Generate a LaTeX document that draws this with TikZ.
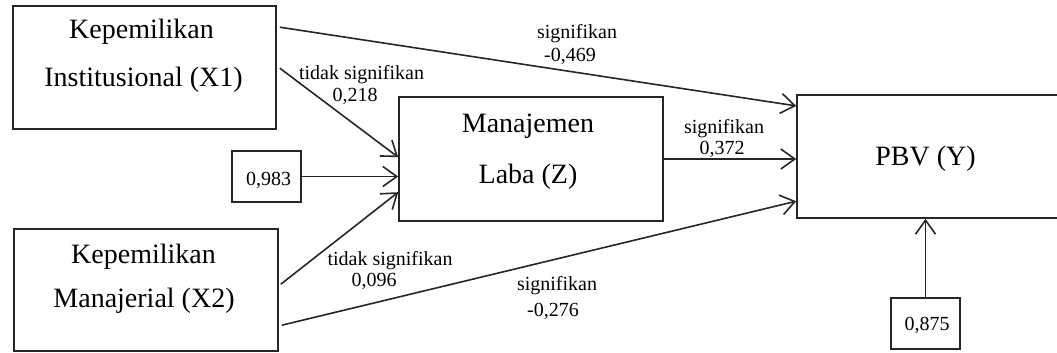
\documentclass[tikz,border=0pt]{standalone}
\usepackage{fontspec}
\setmainfont{Liberation Serif}
\usetikzlibrary{arrows.meta,calc}
\begin{document}
\begin{tikzpicture}[x=1pt,y=-1pt,
  box/.style={draw=black!85,line width=1.6pt,rectangle,inner sep=0pt},
  big/.style={font=\fontsize{28}{30}\selectfont,anchor=base,inner sep=0pt},
  small/.style={font=\fontsize{20}{22}\selectfont,anchor=base,inner sep=0pt},
  conn/.style={draw=black!85,line width=1.6pt,-{Straight Barb[length=14pt,width=20pt,line width=1.6pt]}}]
\useasboundingbox (0,0) rectangle (1057,353);
\clip (0,0) rectangle (1057,353);
% boxes
\node[box,minimum width=263pt,minimum height=123pt] (x1) at (144.5,67.5) {};
\node[box,minimum width=264pt,minimum height=122pt] (x2) at (146,290) {};
\node[box,minimum width=69pt,minimum height=51pt] (e1) at (266.5,176.5) {};
\node[box,minimum width=264pt,minimum height=124pt] (z) at (531,159) {};
\node[box,minimum width=268pt,minimum height=123pt] (pbv) at (931,156.5) {};
\node[box,minimum width=69pt,minimum height=51pt] (e2) at (925.5,323.5) {};
% box texts
\node[big] (t1a) at (141.5,39) {Kepemilikan};
\node[big] (t1b) at (143.5,86) {Institusional (X1)};
\node[big] (t2a) at (143.5,263) {Kepemilikan};
\node[big] (t2b) at (144,307) {Manajerial (X2)};
\node[big] (tza) at (528,132) {Manajemen};
\node[big] (tzb) at (528,183) {Laba (Z)};
\node[big] (ty) at (925.5,165) {PBV (Y)};
\node[small] (te1) at (268.5,185) {0,983};
\node[small] (te2) at (927,330) {0,875};
% connectors
\draw[conn] ($(x1.north east)+(3,22)$) -- ($(pbv.north west)+(0,11.7)$);
\draw[conn] ($(x1.north east)+(3,63)$) -- ($(z.north west)+(0,61)$);
\draw[conn] (e1.east) -- (e1.east -| z.west);
\draw[conn] ($(x2.north east)+(2,56)$) -- ($(z.north west)+(0,96)$);
\draw[conn] ($(x2.north east)+(3,97)$) -- ($(pbv.north west)+(0,107)$);
\draw[conn] (z.east) -- (z.east -| pbv.west);
\draw[conn] (e2.north) -- (e2.north |- pbv.south);
% labels
\node[small] (l1a) at (577,39) {signifikan};
\node[small] (l1b) at (570,62) {-0,469};
\node[small] (l2a) at (361.5,80) {tidak signifikan};
\node[small] (l2b) at (355,101.5) {0,218};
\node[small] (l3a) at (724,133) {signifikan};
\node[small] (l3b) at (722,154) {0,372};
\node[small] (l4a) at (390,265) {tidak signifikan};
\node[small] (l4b) at (374,286) {0,096};
\node[small] (l5a) at (557,290) {signifikan};
\node[small] (l5b) at (553,316) {-0,276};
\end{tikzpicture}
\end{document}
